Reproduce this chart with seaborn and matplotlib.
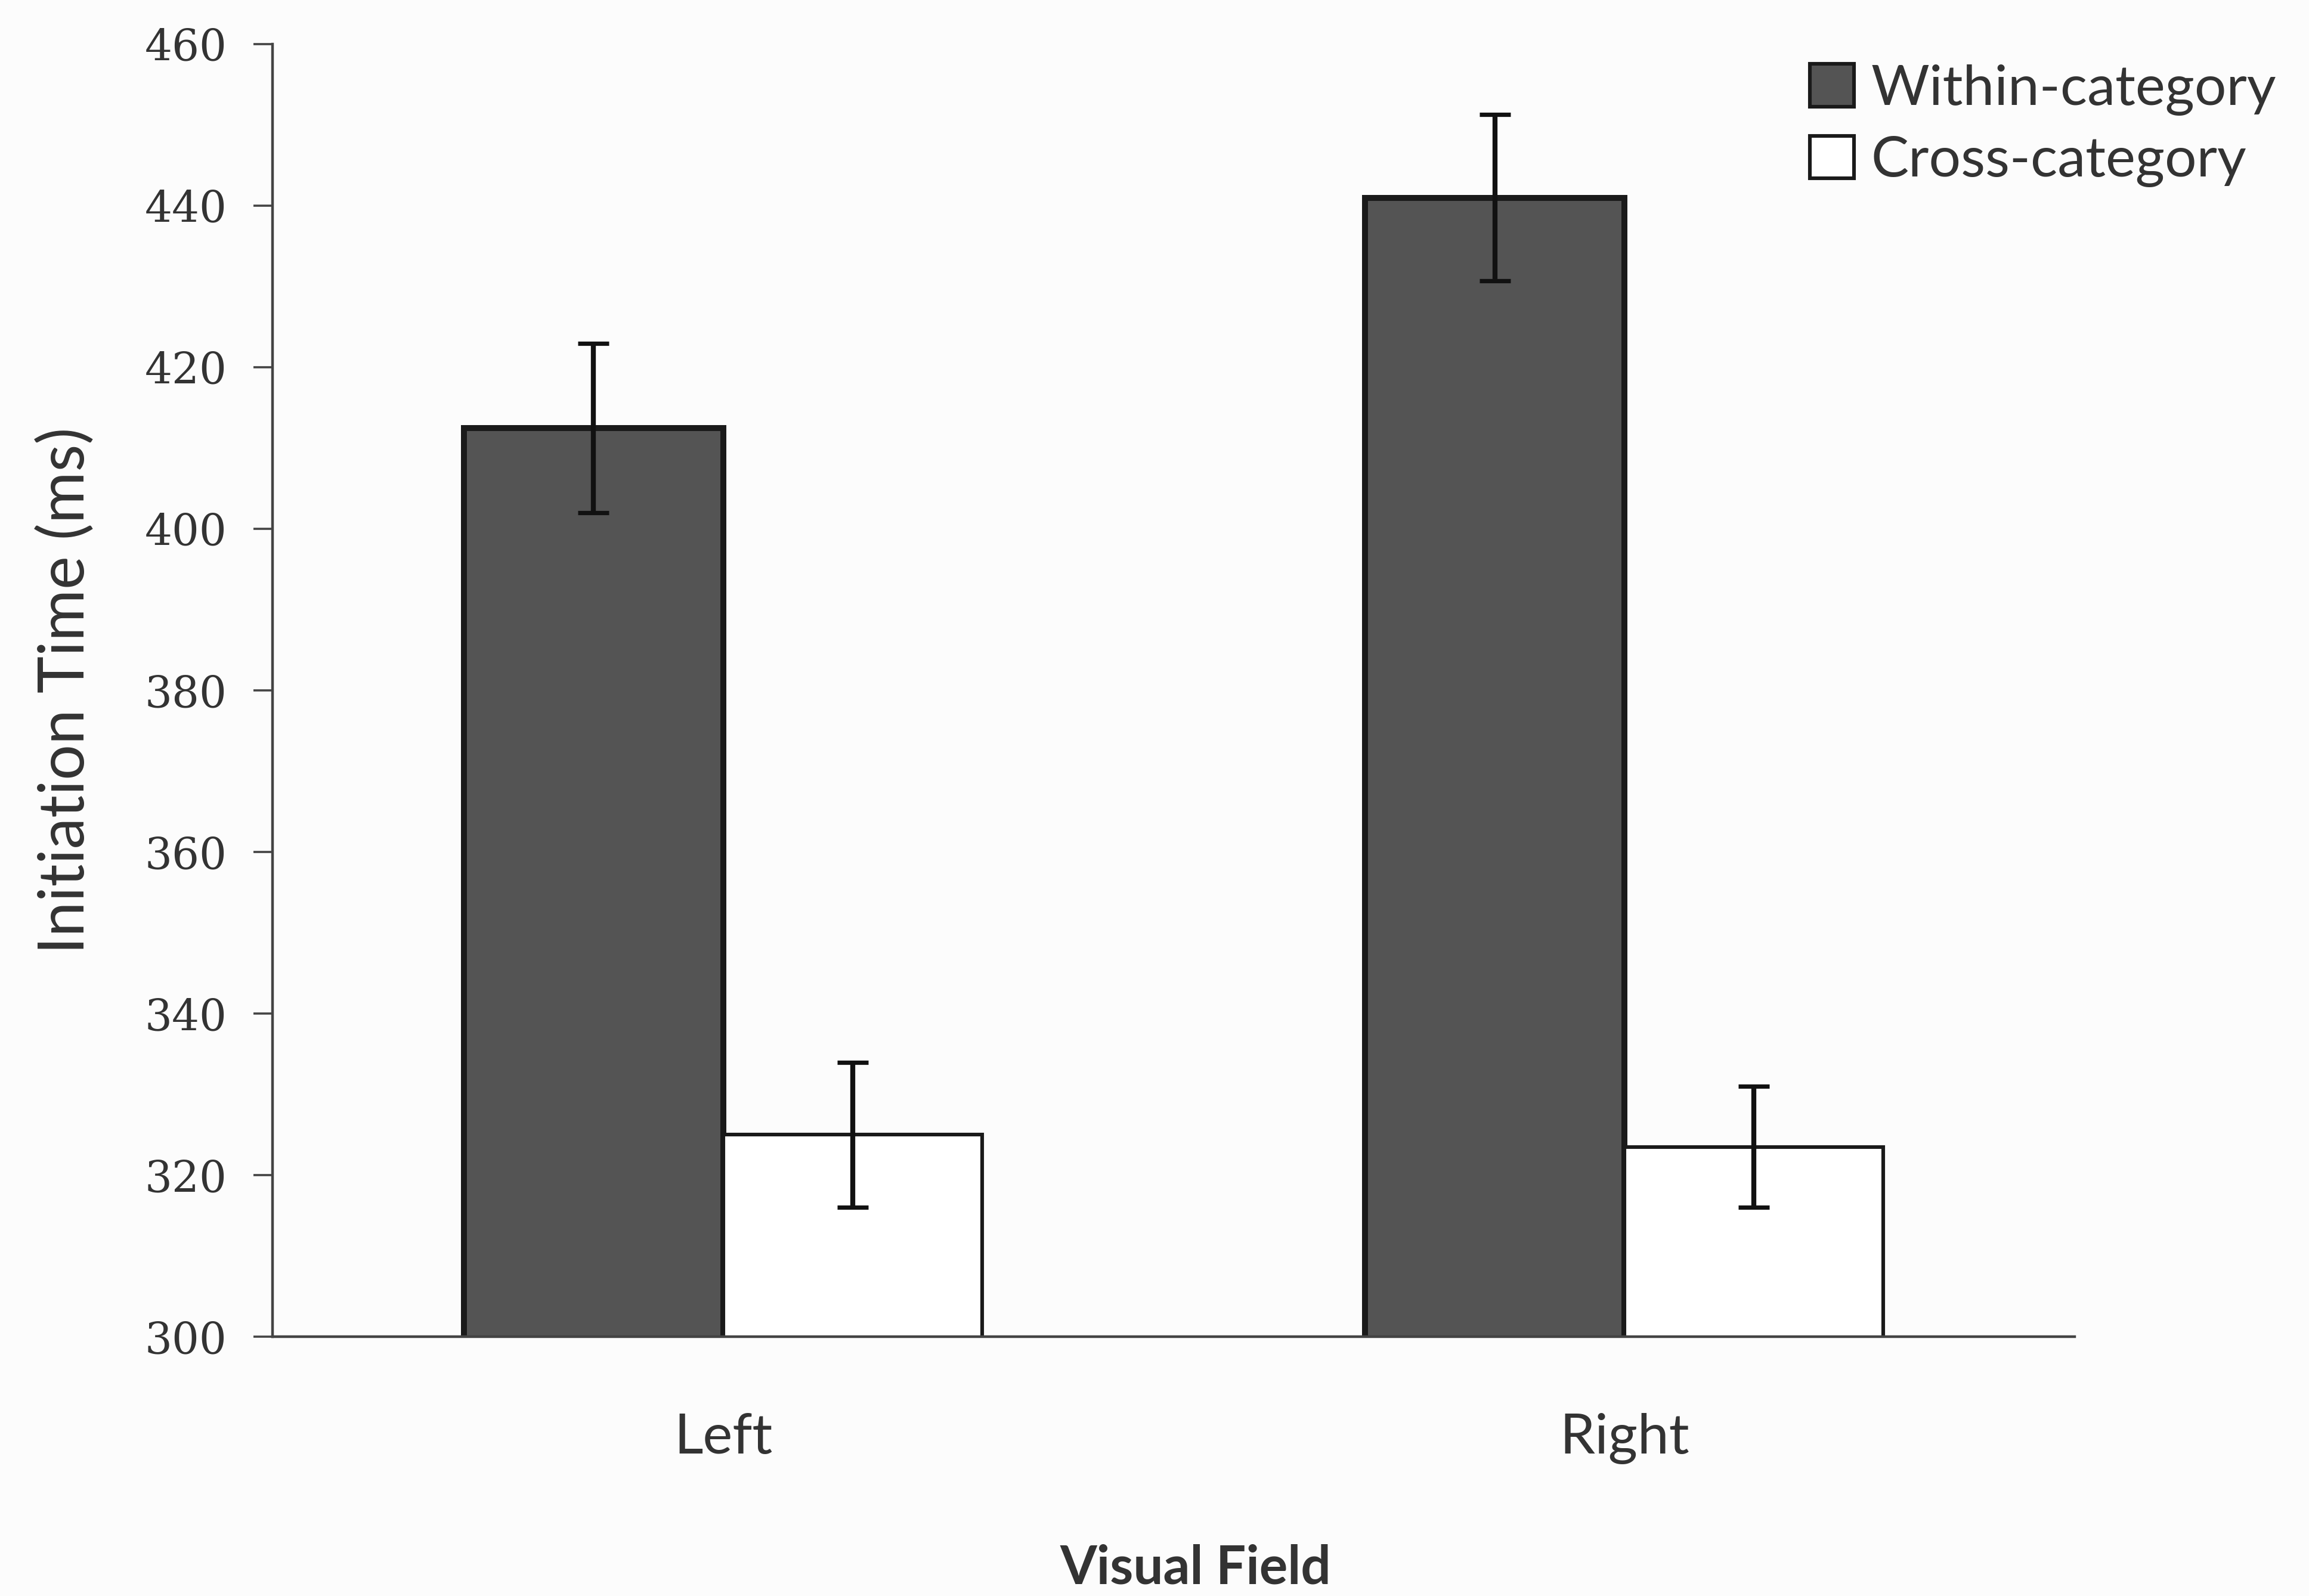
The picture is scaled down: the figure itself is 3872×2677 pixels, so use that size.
import numpy as np
import pandas as pd
import matplotlib
matplotlib.use("Agg")
import matplotlib.pyplot as plt
import seaborn as sns

fields = ["Left", "Right"]
conditions = ["Within-category", "Cross-category"]
within_means = [412.5, 441.0]
cross_means = [325.0, 323.5]
within_err = [10.5, 10.3]
cross_err = [9.0, 7.5]
yticks = [300, 320, 340, 360, 380, 400, 420, 440, 460]

df = pd.DataFrame({
    "field": fields * 2,
    "cond": [conditions[0]] * 2 + [conditions[1]] * 2,
    "time": within_means + cross_means,
    "err": within_err + cross_err,
})

sns.set_theme(style="white")
plt.rcParams["font.family"] = ["Lato", "DejaVu Sans"]

fig = plt.figure(figsize=(19.36, 13.385), dpi=200, facecolor="#fcfcfc")
ax = fig.add_axes([0.118, 0.1624, 0.7806, 0.8099])
ax.set_facecolor("#fcfcfc")

sns.barplot(data=df, x="field", y="time", hue="cond", order=fields,
            hue_order=conditions, palette=["#545454", "#ffffff"],
            width=0.575, edgecolor="#1a1a1a", linewidth=2.2, ax=ax,
            errorbar=None, legend=True)

edge_widths = [3.6, 2.2]
for cont, cond, lw in zip(ax.containers, conditions, edge_widths):
    for p in cont.patches:
        p.set_linewidth(lw)
    sub = df[df["cond"] == cond].set_index("field").loc[fields]
    xs = [p.get_x() + p.get_width() / 2 for p in cont.patches]
    ax.errorbar(xs, sub["time"].values, yerr=sub["err"].values, fmt="none",
                ecolor="#111111", elinewidth=3.0, capsize=9.5, capthick=2.6, zorder=5)

ax.set_ylim(300, 460)
ax.set_xlim(-0.5, 1.5)
ax.set_yticks(yticks)
ax.set_yticklabels([str(t) for t in yticks], family="DejaVu Serif", fontsize=26,
                   color="#333333")
ax.tick_params(axis="y", which="major", direction="out", length=11.5, width=1.3,
               color="#444444", left=True, pad=16)
ax.tick_params(axis="x", length=0, pad=46, labelsize=34, labelcolor="#333333")

for s in ["top", "right"]:
    ax.spines[s].set_visible(False)
for s in ["left", "bottom"]:
    ax.spines[s].set_color("#444444")
    ax.spines[s].set_linewidth(1.6)

ax.set_ylabel("Initiation Time (ms)", fontsize=38, color="#333333", labelpad=30)
ax.set_xlabel("Visual Field", fontsize=32, fontweight="bold", color="#333333")
ax.xaxis.set_label_coords(0.512, -0.16)

handles, labels = ax.get_legend_handles_labels()
ax.legend_.remove()
fig.legend(handles, labels, loc="upper left", bbox_to_anchor=(0.762, 0.9916),
           frameon=False, fontsize=34, handlelength=0.78, handleheight=0.78,
           handletextpad=0.3, labelspacing=0.36, labelcolor="#333333")

fig.savefig("out.png", dpi=200, facecolor=fig.get_facecolor())
